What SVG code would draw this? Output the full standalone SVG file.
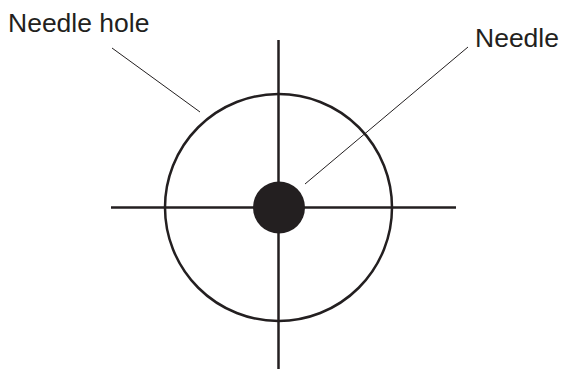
<svg xmlns="http://www.w3.org/2000/svg" width="562" height="369" viewBox="0 0 562 369">
<style>
.lbl{font-family:"Liberation Sans",Arial,sans-serif;font-size:26.5px;fill:#231f20}
.thick{stroke:#231f20;stroke-width:2.5;fill:none}
.leader{stroke:#231f20;stroke-width:1;fill:none}
</style>
<rect width="562" height="369" fill="#fff"/>
<g id="needle-hole">
<circle cx="278.5" cy="207.5" r="113.5" class="thick"/>
</g>
<g id="crosshair">
<line x1="111" y1="207.5" x2="456" y2="207.5" class="thick"/>
<line x1="278.5" y1="40" x2="278.5" y2="369" class="thick"/>
</g>
<g id="needle">
<circle cx="279" cy="207.5" r="26" fill="#231f20"/>
</g>
<g id="connectors">
<line x1="112" y1="48" x2="200" y2="112" class="leader"/>
<line x1="468" y1="47" x2="305" y2="184" class="leader"/>
</g>
<g id="label-needle-hole"><text x="8" y="32" class="lbl">Needle hole</text></g>
<g id="label-needle"><text x="475" y="46.5" class="lbl">Needle</text></g>
</svg>
